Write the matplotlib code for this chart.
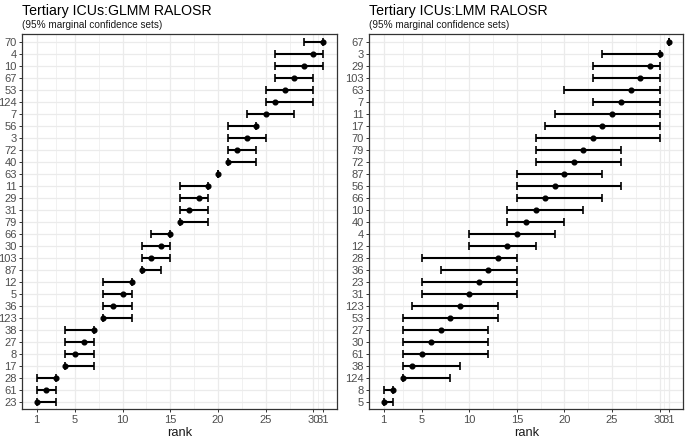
import matplotlib
matplotlib.use("Agg")
import matplotlib.pyplot as plt
import numpy as np

plt.rcParams['font.family'] = ['Liberation Sans', 'DejaVu Sans']

# ---- data (top-to-bottom order as displayed) ----
glmm_labels = ["70", "4", "10", "67", "53", "124", "7", "56", "3", "72", "40", "63",
               "11", "29", "31", "79", "66", "30", "103", "87", "12", "5", "36", "123",
               "38", "27", "8", "17", "28", "61", "23"]
glmm_rank = [31, 30, 29, 28, 27, 26, 25, 24, 23, 22, 21, 20, 19, 18, 17, 16, 15, 14, 13,
             12, 11, 10, 9, 8, 7, 6, 5, 4, 3, 2, 1]
glmm_lower = [29, 26, 26, 26, 25, 25, 23, 21, 21, 21, 21, 20, 16, 16, 16, 16, 13, 12, 12,
              12, 8, 8, 8, 8, 4, 4, 4, 4, 1, 1, 1]
glmm_upper = [31, 31, 31, 30, 30, 30, 28, 24, 25, 24, 24, 20, 19, 19, 19, 19, 15, 15, 15,
              14, 11, 11, 11, 11, 7, 7, 7, 7, 3, 3, 3]

lmm_labels = ["67", "3", "29", "103", "63", "7", "11", "17", "70", "79", "72", "87", "56",
              "66", "10", "40", "4", "12", "28", "36", "23", "31", "123", "53", "27", "30",
              "61", "38", "124", "8", "5"]
lmm_rank = [31, 30, 29, 28, 27, 26, 25, 24, 23, 22, 21, 20, 19, 18, 17, 16, 15, 14, 13,
            12, 11, 10, 9, 8, 7, 6, 5, 4, 3, 2, 1]
lmm_lower = [31, 24, 23, 23, 20, 23, 19, 18, 17, 17, 17, 15, 15, 15, 14, 14, 10, 10, 5,
             7, 5, 5, 4, 3, 3, 3, 3, 3, 3, 1, 1]
lmm_upper = [31, 30, 30, 30, 30, 30, 30, 30, 30, 26, 26, 24, 26, 24, 22, 20, 19, 17, 15,
             15, 15, 15, 13, 13, 12, 12, 12, 9, 8, 2, 2]

x_breaks = [1, 5, 10, 15, 20, 25, 30, 31]
x_minor = [3, 7.5, 12.5, 17.5, 22.5, 27.5, 30.5]

titles = ["Tertiary ICUs:GLMM RALOSR", "Tertiary ICUs:LMM RALOSR"]
subtitle = "(95% marginal confidence sets)"

W, H = 685, 438
fig = plt.figure(figsize=(W / 100, H / 100), dpi=100)

panels = [
    (glmm_labels, glmm_rank, glmm_lower, glmm_upper, (22.3, 34.3, 337.3, 409.3)),
    (lmm_labels, lmm_rank, lmm_lower, lmm_upper, (369.3, 34.3, 683.3, 409.3)),
]

for k, (labels, rank, lo, hi, box) in enumerate(panels):
    x0, y0, x1, y1 = box
    ax = fig.add_axes([x0 / W, (H - y1) / H, (x1 - x0) / W, (y1 - y0) / H])
    n = len(labels)
    ypos = np.arange(n)[::-1]  # top label at top
    rank = np.array(rank, float)
    lo = np.array(lo, float)
    hi = np.array(hi, float)
    ax.errorbar(rank, ypos, xerr=[rank - lo, hi - rank], fmt='none',
                ecolor='black', elinewidth=1.5, capsize=2.8, capthick=1.2, zorder=3)
    ax.plot(rank, ypos, 'o', color='black', markersize=3.4, zorder=4)

    ax.set_xlim(-0.5, 32.5)
    ax.set_ylim(-0.6, n - 1 + 0.6)
    ax.set_xticks(x_breaks)
    ax.set_xticklabels([str(b) for b in x_breaks])
    ax.set_xticks(x_minor, minor=True)
    ax.set_yticks(ypos)
    ax.set_yticklabels(labels)

    ax.grid(True, which='major', color='#EBEBEB', linewidth=0.9, zorder=0)
    ax.grid(True, which='minor', axis='x', color='#EBEBEB', linewidth=0.5, zorder=0)
    ax.set_axisbelow(True)
    for s in ax.spines.values():
        s.set_color('#333333')
        s.set_linewidth(0.9)
    ax.tick_params(axis='both', which='major', length=2.5, width=0.7, color='#333333',
                   labelsize=8.0, labelcolor='#4D4D4D', pad=1.5)
    ax.tick_params(axis='x', which='minor', length=0)
    ax.set_xlabel("rank", fontsize=9.3, color='#1A1A1A', labelpad=1.5)

    fig.text(x0 / W, 1 - 14.5 / H, titles[k], fontsize=10.2, color='black',
             ha='left', va='baseline')
    fig.text(x0 / W, 1 - 28.0 / H, subtitle, fontsize=7.2, color='#1A1A1A',
             ha='left', va='baseline')

fig.savefig("out.png", dpi=100)
